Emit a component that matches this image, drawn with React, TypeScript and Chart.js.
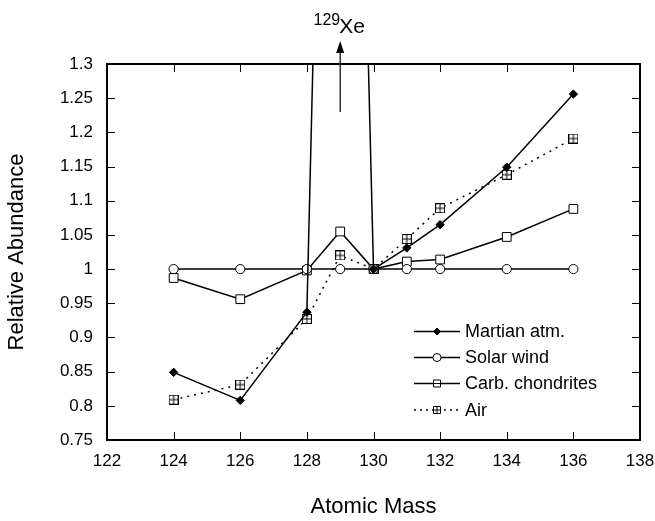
import React, { useEffect, useRef } from 'react';
import { Chart, registerables } from 'chart.js';

Chart.register(...registerables);

// Xenon isotope abundances, normalised to solar wind (=1)
const masses = [124, 126, 128, 129, 130, 131, 132, 134, 136];
const martianAtm = [0.849, 0.808, 0.937, 2.95, 1.0, 1.031, 1.065, 1.149, 1.256];
const solarWind = [1.0, 1.0, 1.0, 1.0, 1.0, 1.0, 1.0, 1.0, 1.0];
const carbChondrites = [0.987, 0.956, 0.998, 1.055, 1.0, 1.011, 1.014, 1.047, 1.088];
const air = [0.809, 0.831, 0.927, 1.02, 1.0, 1.044, 1.089, 1.138, 1.191];

const seriesNames = ['Martian atm.', 'Solar wind', 'Carb. chondrites', 'Air'];

const xTickValues = [122, 124, 126, 128, 130, 132, 134, 136, 138];
const yTickValues = [0.75, 0.8, 0.85, 0.9, 0.95, 1.0, 1.05, 1.1, 1.15, 1.2, 1.25, 1.3];
const yTickLabels = ['0.75', '0.8', '0.85', '0.9', '0.95', '1', '1.05', '1.1', '1.15', '1.2', '1.25', '1.3'];

const spikeMass = 129;
const FONT = '"Liberation Sans", Arial, Helvetica, sans-serif';

type MarkerKind = 'diamond' | 'circle' | 'square' | 'squarePlus';

function makeAirMarker(): HTMLCanvasElement {
  const c = document.createElement('canvas');
  c.width = 10;
  c.height = 10;
  const g = c.getContext('2d')!;
  g.fillStyle = '#fff';
  g.fillRect(0.5, 0.5, 9, 9);
  g.strokeStyle = '#000';
  g.lineWidth = 1;
  g.strokeRect(0.5, 0.5, 9, 9);
  g.beginPath();
  g.moveTo(5, 0.5);
  g.lineTo(5, 9.5);
  g.moveTo(0.5, 5);
  g.lineTo(9.5, 5);
  g.stroke();
  return c;
}

function drawLegendMarker(ctx: CanvasRenderingContext2D, kind: MarkerKind, x: number, y: number) {
  ctx.save();
  ctx.strokeStyle = '#000';
  ctx.lineWidth = 1;
  ctx.setLineDash([]);
  ctx.beginPath();
  if (kind === 'diamond') {
    const r = 3.5;
    ctx.moveTo(x - r, y);
    ctx.lineTo(x, y - r);
    ctx.lineTo(x + r, y);
    ctx.lineTo(x, y + r);
    ctx.closePath();
    ctx.fillStyle = '#000';
    ctx.fill();
    ctx.stroke();
  } else if (kind === 'circle') {
    ctx.arc(x, y, 4, 0, Math.PI * 2);
    ctx.fillStyle = '#fff';
    ctx.fill();
    ctx.stroke();
  } else {
    const h = 3.5;
    ctx.rect(x - h, y - h, 2 * h, 2 * h);
    ctx.fillStyle = '#fff';
    ctx.fill();
    ctx.stroke();
    ctx.beginPath();
    if (kind === 'squarePlus') {
      ctx.moveTo(x, y - h);
      ctx.lineTo(x, y + h);
      ctx.moveTo(x - h, y);
      ctx.lineTo(x + h, y);
    } else {
      ctx.moveTo(x - h, y);
      ctx.lineTo(x + h, y);
    }
    ctx.stroke();
  }
  ctx.restore();
}

// Frame with inward ticks on all four sides
const framePlugin = {
  id: 'frameTicks',
  afterDraw(chart: any) {
    const { ctx, chartArea: a, scales } = chart;
    const xs = scales.x;
    const ys = scales.y;
    const len = 8;
    ctx.save();
    ctx.strokeStyle = '#000';
    ctx.lineWidth = 1;
    ctx.beginPath();
    xTickValues.slice(1, -1).forEach((v) => {
      const px = Math.round(xs.getPixelForValue(v)) + 0.5;
      ctx.moveTo(px, a.bottom);
      ctx.lineTo(px, a.bottom - len);
      ctx.moveTo(px, a.top);
      ctx.lineTo(px, a.top + len);
    });
    yTickValues.slice(1, -1).forEach((v) => {
      const py = Math.round(ys.getPixelForValue(v)) + 0.5;
      ctx.moveTo(a.left, py);
      ctx.lineTo(a.left + len, py);
      ctx.moveTo(a.right, py);
      ctx.lineTo(a.right - len, py);
    });
    ctx.stroke();
    ctx.lineWidth = 2;
    ctx.strokeRect(a.left, a.top, a.right - a.left, a.bottom - a.top);
    ctx.restore();
  },
};

// Arrow and label marking the off-scale 129Xe value
const spikePlugin = {
  id: 'spikeLabel',
  afterDraw(chart: any) {
    const { ctx, chartArea: a, scales } = chart;
    const x = scales.x.getPixelForValue(spikeMass);
    const tipY = a.top - 23;
    const baseY = tipY + 12;
    ctx.save();
    ctx.strokeStyle = '#000';
    ctx.fillStyle = '#000';
    ctx.lineWidth = 1.2;
    ctx.beginPath();
    ctx.moveTo(x, a.top + 48);
    ctx.lineTo(x, baseY);
    ctx.stroke();
    ctx.beginPath();
    ctx.moveTo(x, tipY);
    ctx.lineTo(x - 4, baseY);
    ctx.lineTo(x + 4, baseY);
    ctx.closePath();
    ctx.fill();
    ctx.textBaseline = 'alphabetic';
    ctx.font = `16px ${FONT}`;
    ctx.textAlign = 'right';
    ctx.fillText('129', x, a.top - 39);
    ctx.font = `21px ${FONT}`;
    ctx.textAlign = 'left';
    ctx.fillText('Xe', x - 1, a.top - 31);
    ctx.restore();
  },
};

const legendKinds: MarkerKind[] = ['diamond', 'circle', 'square', 'squarePlus'];
const legendRows = [331.5, 357.5, 383.5, 410];

const legendPlugin = {
  id: 'lineLegend',
  afterDraw(chart: any) {
    const { ctx } = chart;
    const x0 = 414;
    const x1 = 460;
    const mid = 437;
    ctx.save();
    seriesNames.forEach((name, i) => {
      const y = legendRows[i];
      ctx.strokeStyle = '#000';
      ctx.lineWidth = 1.3;
      ctx.setLineDash(i === 3 ? [2, 4] : []);
      ctx.beginPath();
      ctx.moveTo(x0, y);
      ctx.lineTo(x1, y);
      ctx.stroke();
      drawLegendMarker(ctx, legendKinds[i], mid, y);
      ctx.fillStyle = '#000';
      ctx.font = `18px ${FONT}`;
      ctx.textAlign = 'left';
      ctx.textBaseline = 'middle';
      ctx.fillText(name, 465, y + 1);
    });
    ctx.restore();
  },
};

function toPoints(values: number[]) {
  return masses.map((m, i) => ({ x: m, y: values[i] }));
}

export default function App() {
  const canvasRef = useRef<HTMLCanvasElement | null>(null);

  useEffect(() => {
    document.body.style.margin = '0';
    const canvas = canvasRef.current;
    if (!canvas) return;
    const airMarker = makeAirMarker();

    const common = {
      borderColor: '#000',
      borderWidth: 1.5,
      tension: 0,
      pointBorderColor: '#000',
      pointBorderWidth: 1,
      pointHoverRadius: 0,
      fill: false,
    };

    const chart = new Chart(canvas, {
      type: 'line',
      data: {
        datasets: [
          {
            ...common,
            label: seriesNames[0],
            data: toPoints(martianAtm),
            pointStyle: 'rectRot',
            pointRadius: 4.2,
            pointBackgroundColor: '#000',
          },
          {
            ...common,
            label: seriesNames[1],
            data: toPoints(solarWind),
            pointStyle: 'circle',
            pointRadius: 4.6,
            pointBackgroundColor: '#fff',
          },
          {
            ...common,
            label: seriesNames[2],
            data: toPoints(carbChondrites),
            pointStyle: 'rect',
            pointRadius: 6.2,
            pointBackgroundColor: '#fff',
          },
          {
            ...common,
            label: seriesNames[3],
            data: toPoints(air),
            borderDash: [2, 5],
            pointStyle: airMarker,
            pointRadius: 5,
          },
        ] as any,
      },
      options: {
        animation: false,
        responsive: false,
        maintainAspectRatio: false,
        layout: { padding: { top: 64, right: 15, left: 0, bottom: 0 } },
        plugins: {
          legend: { display: false },
          tooltip: { enabled: false },
        },
        scales: {
          x: {
            type: 'linear',
            min: 122,
            max: 138,
            afterBuildTicks: (s: any) => {
              s.ticks = xTickValues.map((v) => ({ value: v }));
            },
            afterFit: (s: any) => {
              s.height = 81;
              s.paddingLeft = 0;
              s.paddingRight = 0;
            },
            grid: { display: false, drawTicks: false, tickLength: 0 },
            border: { display: false },
            ticks: {
              color: '#000',
              font: { family: FONT, size: 17 },
              padding: 11,
              maxRotation: 0,
              autoSkip: false,
              callback: (v: any) => String(v),
            },
            title: {
              display: true,
              text: 'Atomic Mass',
              color: '#000',
              font: { family: FONT, size: 22 },
              padding: { top: 0, bottom: 1 },
            },
          },
          y: {
            type: 'linear',
            min: 0.75,
            max: 1.3,
            afterBuildTicks: (s: any) => {
              s.ticks = yTickValues.map((v) => ({ value: v }));
            },
            afterFit: (s: any) => {
              s.width = 107;
              s.paddingTop = 0;
              s.paddingBottom = 0;
            },
            grid: { display: false, drawTicks: false, tickLength: 0 },
            border: { display: false },
            ticks: {
              color: '#000',
              font: { family: FONT, size: 17 },
              padding: 14,
              autoSkip: false,
              callback: (_v: any, i: number) => yTickLabels[i],
            },
            title: {
              display: true,
              text: 'Relative Abundance',
              color: '#000',
              font: { family: FONT, size: 22 },
              padding: { top: 4, bottom: 0 },
            },
          },
        },
      } as any,
      plugins: [framePlugin, spikePlugin, legendPlugin],
    });

    return () => chart.destroy();
  }, []);

  return (
    <div style={{ position: 'absolute', left: 0, top: 0, width: 655, height: 521, background: '#fff' }}>
      <canvas ref={canvasRef} width={655} height={521} style={{ display: 'block' }} />
    </div>
  );
}
